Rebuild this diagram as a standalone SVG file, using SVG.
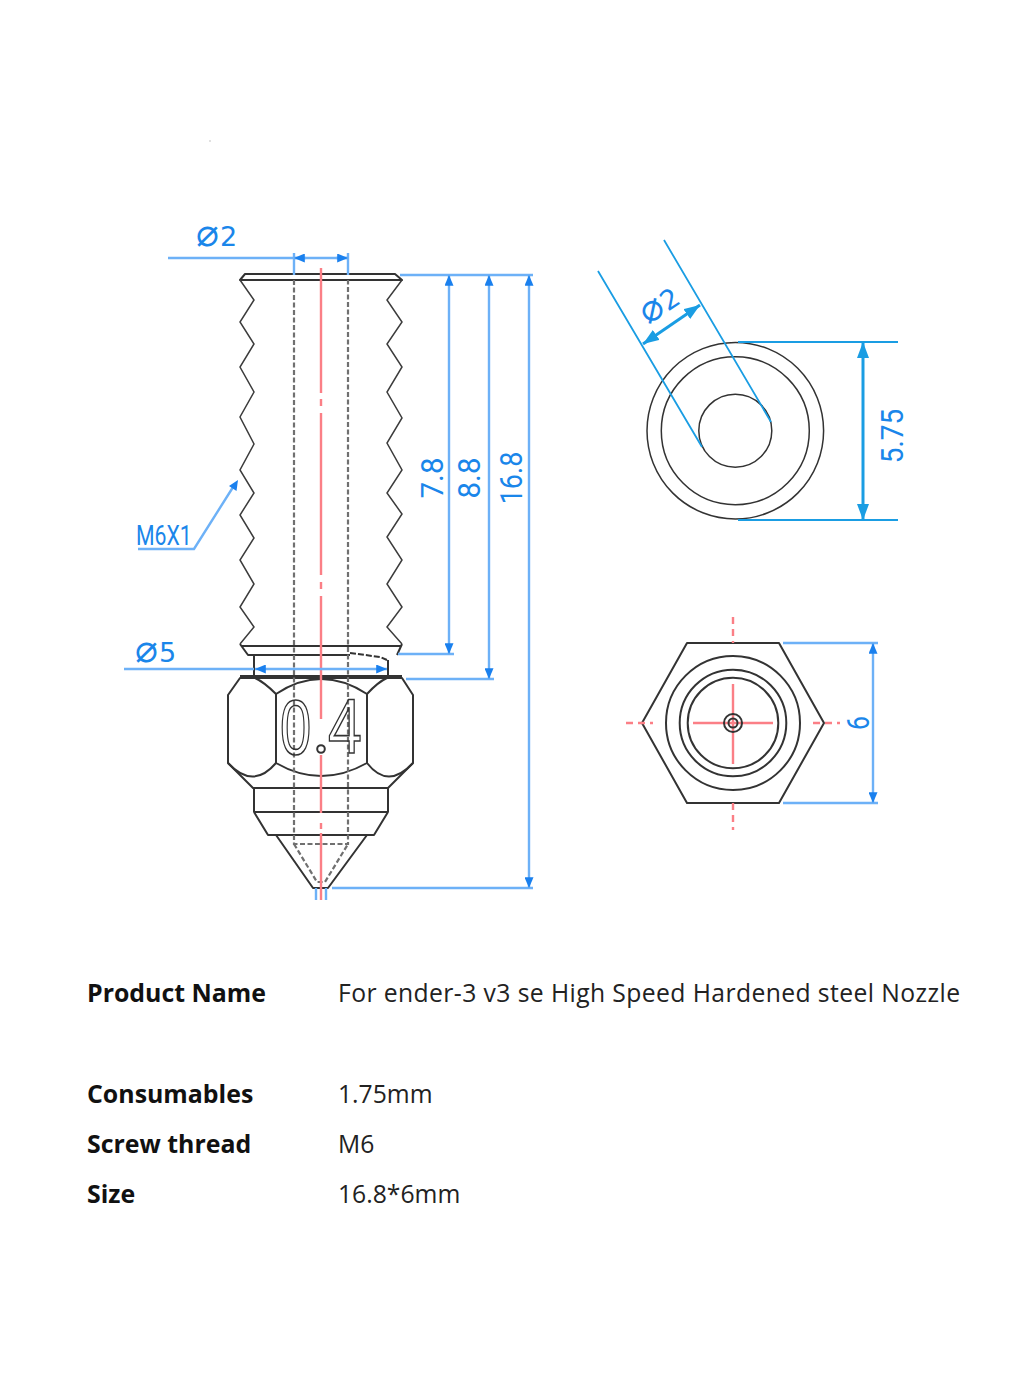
<svg xmlns="http://www.w3.org/2000/svg" width="1023" height="1381" viewBox="0 0 1023 1381">
<defs>
<style>
.k{fill:none;stroke:#333;stroke-width:2;stroke-linejoin:round}
.tv{fill:none;stroke:#333;stroke-width:1.5}
.th{fill:none;stroke:#3c3c3c;stroke-width:1.5;stroke-linejoin:miter}
.hid{fill:none;stroke:#707070;stroke-width:2.2;stroke-dasharray:5 2.5}
.red{fill:none;stroke:#fb7f86;stroke-width:2.4}
.rd{fill:none;stroke:#fb7f86;stroke-width:2.4;stroke-dasharray:7 5}
.d{fill:none;stroke:#6db1f7;stroke-width:2.4}
.da{fill:none;stroke:#6db1f7;stroke-width:2.4;marker-start:url(#a);marker-end:url(#a)}
.c{fill:none;stroke:#1a9de3;stroke-width:1.8}
.ca{fill:none;stroke:#1a9de3;stroke-width:3;marker-start:url(#b);marker-end:url(#b)}
.t{font-family:Roboto,"Liberation Sans",sans-serif;fill:#1a86ea;font-size:31px}
.sym{font-family:"DejaVu Sans",sans-serif;fill:#1a86ea;font-size:27px}
.sym tspan{font-size:38px;font-weight:200}
.l{font-family:"Open Sans","Noto Sans",sans-serif;font-size:24.9px;font-weight:700;fill:#111}
.v{font-family:"Open Sans","Noto Sans",sans-serif;font-size:24.7px;fill:#222}
</style>
<marker id="a" viewBox="0 0 12 10" refX="12" refY="5" markerWidth="12" markerHeight="9" markerUnits="userSpaceOnUse" orient="auto-start-reverse"><path d="M0 0L12 5L0 10z" fill="#1a80ee"/></marker>
<marker id="b" viewBox="0 0 16 12" refX="16" refY="6" markerWidth="16" markerHeight="12" markerUnits="userSpaceOnUse" orient="auto-start-reverse"><path d="M0 0L16 6L0 12z" fill="#1a9de3"/></marker>
</defs>
<rect width="1023" height="1381" fill="#fff"/>
<circle cx="210" cy="141" r="0.8" fill="#bbb"/>

<g id="side-view">
<path class="k" d="M240 280L245 274H395L402 280Z"/>
<path class="th" d="M240 280L254 300L240 322L254 344L240 367L254 392L240 417L254 444L240 470L254 493L240 515L254 538L240 560L254 584L240 607L254 627L240 644"/>
<path class="th" d="M402 280L387 300L402 322L387 344L402 367L387 392L402 418L387 443L402 470L387 493L402 514L387 537L402 560L387 584L402 607L387 627L402 644"/>
<path class="k" d="M240 644L248 655H350M397 655L402 644M241 646H401"/>
<path class="k" d="M254 655V678M388 660V678"/>
<path class="k" stroke-dasharray="6 2" d="M350 653L380 657L387 660"/>
<path class="k" d="M240 678L228 695V763L253 788H388L413 763V695L402 678ZM240 676H402"/>
<path class="k" d="M276 694V763M367 694V763"/>
<path class="k" d="M276 694Q321 664 367 694M276 763Q321 789 367 763"/>
<path class="k" d="M240 678H255Q264 682 276 694M402 678H387Q378 682 367 694"/>
<path class="k" d="M228 763Q253 790 276 763M413 763Q388 790 367 763"/>
<path class="k" d="M254 788V812H388V788M254 812L268 835H374L388 812"/>
<path class="k" d="M276 835L313 888H328L367 835"/>
<path class="hid" d="M294 280V844H348V280M294 844L317 882H325L348 844"/>
<path class="red" d="M321 268V393M321 399V406M321 413V575M321 582V589M321 596V719M321 755V813M321 823V829M321 833V900"/>
<text id="engraved-0" transform="translate(280 754) scale(0.72 1)" font-family="Liberation Sans,sans-serif" font-size="78" fill="none" stroke="#333" stroke-width="1.6">0</text>
<text id="engraved-4" transform="translate(328 753) scale(0.78 1)" font-family="Liberation Sans,sans-serif" font-size="78" fill="none" stroke="#333" stroke-width="1.6">4</text>
<circle class="k" cx="321" cy="749" r="3.8"/>
</g>

<g id="top-view">
<circle class="tv" cx="735.3" cy="430.7" r="88.3"/>
<circle class="tv" cx="735.3" cy="430.7" r="74"/>
<circle class="tv" cx="735.3" cy="430.7" r="36.5"/>
</g>

<g id="hex-view">
<path class="k" d="M687 643H779L824 723L779 803H687L642 723Z"/>
<circle class="k" cx="733" cy="723" r="67"/>
<circle class="k" cx="733" cy="723" r="53.3"/>
<circle class="k" cx="733" cy="723" r="45.3"/>
<path class="red" d="M693 723H773M733 684V764"/>
<circle class="k" cx="733" cy="723" r="9"/>
<circle class="k" cx="733" cy="723" r="4.5"/>
<path class="rd" d="M733 617V643M733 803V830M626 723H653M813 723H840"/>
</g>

<g id="connectors">
<path class="d" d="M168 258H294M294 253V275M348 253V275"/>
<path class="d" stroke-width="1.4" d="M294 258H348"/>
<path class="d" stroke-width="1" d="M294 258L306 258" marker-start="url(#a)"/>
<path class="d" stroke-width="1" d="M336 258L348 258" marker-end="url(#a)"/>
<path class="d" d="M400 275H533M398 654H454M406 679H494M332 888H533"/>
<path class="da" d="M449 275V654"/>
<path class="da" d="M489 275V679"/>
<path class="da" d="M529 275V888"/>
<path class="d" d="M124 669H254"/>
<path class="da" d="M255 669H387" stroke-width="1.4"/>
<path class="d" d="M138 549H194L235 484"/>
<path d="M238 480L236.500 491L229 486Z" fill="#1a80ee"/>
<path class="d" stroke-width="1.5" d="M316 888V900M326 888V900"/>
<path class="c" d="M598 271L702 447M664 240L771 422M738 342H898M738 520H898"/>
<path class="ca" d="M643 344L700 305"/>
<path class="ca" d="M863 342V520"/>
<path class="d" d="M783 643H878M783 803H878"/>
<path class="da" d="M873 643V803"/>
</g>

<g id="dimension-labels">
<text class="sym" x="196" y="246"><tspan>⌀</tspan><tspan dx="1" style="font-size:27px;font-weight:400">2</tspan></text>
<text class="sym" x="135" y="662"><tspan>⌀</tspan><tspan dx="1" style="font-size:27px;font-weight:400">5</tspan></text>
<text class="sym" transform="translate(660 306) rotate(-33)" text-anchor="middle" y="9"><tspan>⌀</tspan><tspan dx="1" style="font-size:27px;font-weight:400">2</tspan></text>
<text class="t" transform="translate(443 478) rotate(-90) scale(0.95 1)" text-anchor="middle">7.8</text>
<text class="t" transform="translate(480 478) rotate(-90) scale(0.95 1)" text-anchor="middle">8.8</text>
<text class="t" transform="translate(522 478) rotate(-90) scale(0.87 1)" text-anchor="middle">16.8</text>
<text class="t" transform="translate(903 436) rotate(-90) scale(0.9 1)" text-anchor="middle">5.75</text>
<text class="t" transform="translate(869 723) rotate(-90) scale(0.8 1)" text-anchor="middle">6</text>
<text transform="translate(136 545) scale(0.76 1)" font-family="Roboto,sans-serif" font-size="28" fill="#1a86ea">M6X1</text>
</g>

<g id="spec-table">
<text class="l" x="87" y="1002">Product Name</text>
<text class="v" x="338" y="1002" textLength="622">For ender-3 v3 se High Speed Hardened steel Nozzle</text>
<text class="l" x="87" y="1103">Consumables</text>
<text class="v" x="338" y="1103">1.75mm</text>
<text class="l" x="87" y="1153">Screw thread</text>
<text class="v" x="338" y="1153">M6</text>
<text class="l" x="87" y="1203">Size</text>
<text class="v" x="338" y="1203">16.8*6mm</text>
</g>
</svg>
